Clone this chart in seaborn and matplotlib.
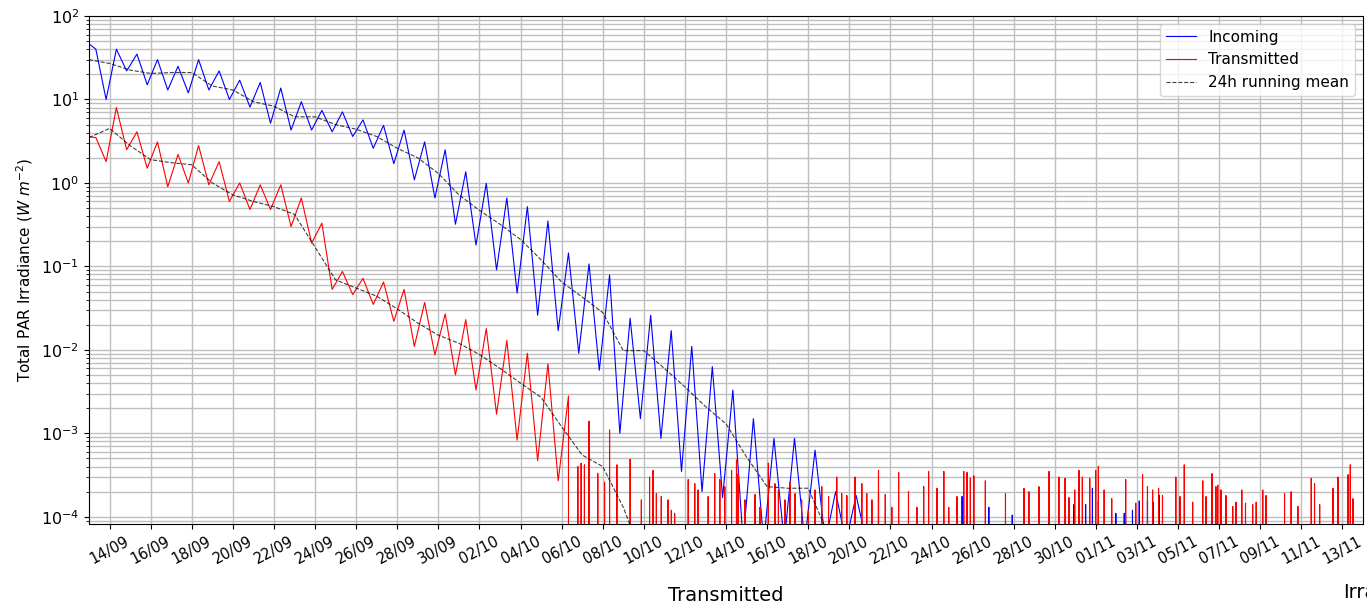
import numpy as np
import pandas as pd
import matplotlib
matplotlib.use('Agg')
import matplotlib.pyplot as plt
import matplotlib.dates as mdates
import seaborn as sns

# 12-hourly readings starting 12/09 20:00, alternating evening low / morning high (W m-2)
incoming_12h = [50, 40, 10, 40, 22, 35, 15, 30, 13, 25, 12, 30, 13, 22, 10, 17, 8.1, 16,
                5.2, 13.7, 4.3, 9.4, 4.3, 7.4, 4.1, 7.1, 3.6, 5.7, 2.6, 4.9, 1.7, 4.3,
                1.09, 3.1, 0.66, 2.5, 0.32, 1.36, 0.18, 0.99, 0.091, 0.66, 0.048, 0.52,
                0.026, 0.35, 0.017, 0.145, 0.0091, 0.107, 0.0057, 0.079, 0.001, 0.024,
                0.0015, 0.026, 0.00087, 0.017, 0.00035, 0.011, 0.0002, 0.0063, 0.00017,
                0.0033, 5e-5, 0.0015, 5e-5, 0.00087, 5e-5, 0.00087, 5e-5, 0.00063, 5e-5,
                0.0002, 5e-5, 0.00018, 5e-5]
transmitted_12h = [3.6, 3.5, 1.8, 8.0, 2.5, 4.1, 1.5, 3.1, 0.9, 2.2, 1.0, 2.8, 0.95, 1.8,
                   0.6, 1.0, 0.48, 0.95, 0.48, 0.95, 0.3, 0.66, 0.19, 0.33, 0.053, 0.087,
                   0.046, 0.072, 0.035, 0.065, 0.022, 0.053, 0.011, 0.037, 0.0087, 0.027,
                   0.005, 0.023, 0.0033, 0.018, 0.0017, 0.013, 0.00083, 0.0091, 0.00047,
                   0.0068, 0.00027, 0.0028, 0.0, 0.0014, 0.0, 0.0011, 0.0, 0.00049, 0.0]

# daily values of the 24h running mean, from 13/09 00:00
incoming_mean = [30, 27, 22.5, 20.5, 21, 21, 14.5, 13, 9.4, 8.3, 6.2, 6.2, 5.0, 4.4, 3.6,
                 2.6, 2.0, 1.3, 0.72, 0.47, 0.32, 0.21, 0.12, 0.065, 0.043, 0.028, 0.0098,
                 0.0098, 0.006, 0.0036, 0.0021, 0.0013, 0.00052, 0.00023, 0.00022, 0.00022,
                 0.00006]
transmitted_mean = [3.5, 4.5, 2.8, 1.9, 1.75, 1.65, 1.0, 0.72, 0.6, 0.52, 0.42, 0.17, 0.069,
                    0.055, 0.044, 0.031, 0.021, 0.015, 0.012, 0.0088, 0.006, 0.004, 0.0027,
                    0.0012, 0.00055, 0.0004, 0.00013, 0.00003]

# late season: isolated non-zero hourly readings (days after 13/09, W m-2)
incoming_spike_day = [38.42, 42.49, 43.79, 44.93, 47.93, 48.5, 48.83, 49.12, 49.97, 50.38,
                      50.78, 51.11, 51.51, 51.79, 52.08]
incoming_spike_val = [1.9e-4, 1.75e-4, 1.3e-4, 1.05e-4, 1.4e-4, 1.4e-4, 2.2e-4, 1.55e-4,
                      1.1e-4, 1.1e-4, 1.2e-4, 1.55e-4, 1.55e-4, 1.5e-4, 1.8e-4]
transmitted_spike_day = [23.79, 23.95, 24.11, 24.76, 25.09, 25.69, 26.88, 27.28, 27.45, 27.61,
                         27.85, 28.18, 28.34, 28.5, 29.16, 29.48, 29.64, 30.13, 30.45, 30.7,
                         30.94, 31.27, 31.51, 31.59, 31.92, 32.41, 32.65, 33.06, 33.38, 33.55,
                         33.87, 34.11, 34.36, 34.68, 35.01, 35.33, 35.66, 35.99, 36.39, 36.63,
                         36.88, 37.28, 37.61, 37.85, 38.1, 38.42, 38.75, 39.07, 39.4, 39.88,
                         40.29, 40.62, 40.86, 41.27, 41.6, 41.84, 42.24, 42.57, 42.73, 42.89,
                         43.06, 43.62, 44.6, 45.5, 45.74, 46.23, 46.72, 47.2, 47.5, 47.69,
                         47.97, 48.18, 48.34, 48.7, 48.99, 49.12, 49.4, 49.77, 50.45, 50.94,
                         51.27, 51.51, 51.76, 52.05, 52.24, 52.89, 53.09, 53.3, 53.71, 54.2,
                         54.36, 54.65, 54.84, 54.93, 55.09, 55.33, 55.66, 55.82, 56.1, 56.28,
                         56.63, 56.8, 57.12, 57.28, 58.18, 58.5, 58.83, 59.48, 59.64, 59.89,
                         60.54, 60.78, 61.27, 61.38, 61.51]
transmitted_spike_val = [4.0e-4, 4.4e-4, 4.2e-4, 3.3e-4, 2.6e-4, 4.2e-4, 1.6e-4, 3.0e-4, 3.6e-4,
                         1.9e-4, 1.75e-4, 1.6e-4, 1.2e-4, 1.1e-4, 2.8e-4, 2.5e-4, 2.1e-4,
                         1.75e-4, 3.3e-4, 2.8e-4, 2.3e-4, 3.6e-4, 4.8e-4, 3.3e-4, 1.6e-4,
                         1.85e-4, 1.3e-4, 4.4e-4, 2.5e-4, 2.1e-4, 1.6e-4, 2.6e-4, 1.9e-4,
                         1.6e-4, 1.2e-4, 2.1e-4, 2.3e-4, 1.75e-4, 3.0e-4, 1.9e-4, 1.8e-4,
                         3.0e-4, 2.5e-4, 1.9e-4, 1.6e-4, 3.6e-4, 1.85e-4, 1.3e-4, 3.4e-4,
                         2.0e-4, 1.3e-4, 2.3e-4, 3.5e-4, 2.2e-4, 3.5e-4, 1.3e-4, 1.75e-4,
                         3.5e-4, 3.4e-4, 2.9e-4, 3.1e-4, 2.7e-4, 1.9e-4, 2.2e-4, 2.0e-4,
                         2.3e-4, 3.5e-4, 3.0e-4, 2.9e-4, 1.7e-4, 2.1e-4, 3.6e-4, 3.0e-4,
                         2.9e-4, 3.6e-4, 4.0e-4, 2.1e-4, 1.65e-4, 2.8e-4, 1.46e-4, 3.2e-4,
                         2.3e-4, 2.1e-4, 2.2e-4, 1.8e-4, 3.0e-4, 1.75e-4, 4.2e-4, 1.5e-4,
                         2.7e-4, 1.75e-4, 3.3e-4, 2.3e-4, 2.4e-4, 2.1e-4, 1.8e-4, 1.33e-4,
                         1.5e-4, 2.1e-4, 1.46e-4, 1.4e-4, 1.5e-4, 2.1e-4, 1.8e-4, 1.9e-4,
                         2.0e-4, 1.33e-4, 2.9e-4, 2.5e-4, 1.4e-4, 2.2e-4, 3.0e-4, 3.2e-4,
                         4.2e-4, 1.65e-4]

t0 = pd.Timestamp('2017-09-13')
first_reading = pd.Timestamp('2017-09-12 20:00')
hour = pd.Timedelta(hours=1)


def build_series(vals_12h, spike_day, spike_val):
    base = pd.DataFrame({'time': pd.date_range(first_reading, periods=len(vals_12h), freq='12h'),
                         'value': vals_12h})
    # each isolated reading sits between two dark (zero) hours
    st = t0 + pd.to_timedelta(spike_day, unit='D')
    n = len(st)
    tail = pd.DataFrame({'time': np.concatenate([st - hour, st, st + hour]),
                         'value': np.concatenate([np.zeros(n), spike_val, np.zeros(n)])})
    return pd.concat([base, tail]).sort_values('time').reset_index(drop=True)


inc = build_series(incoming_12h, incoming_spike_day, incoming_spike_val)
trn = build_series(transmitted_12h, transmitted_spike_day, transmitted_spike_val)
inc_mean = pd.DataFrame({'time': pd.date_range(t0, periods=len(incoming_mean), freq='D'),
                         'value': incoming_mean})
trn_mean = pd.DataFrame({'time': pd.date_range(t0, periods=len(transmitted_mean), freq='D'),
                         'value': transmitted_mean})

fig, ax = plt.subplots(figsize=(13.67, 6.06), dpi=100)
fig.subplots_adjust(left=0.0651, right=0.9971, top=0.9736, bottom=0.1353)

sns.lineplot(data=inc, x='time', y='value', color='b', lw=0.8, estimator=None, ax=ax)
sns.lineplot(data=trn, x='time', y='value', color='r', lw=0.8, estimator=None, ax=ax)
sns.lineplot(data=inc_mean, x='time', y='value', color='k', lw=0.8, ls='--', alpha=0.75,
             estimator=None, ax=ax)
sns.lineplot(data=trn_mean, x='time', y='value', color='k', lw=0.8, ls='--', alpha=0.75,
             estimator=None, ax=ax)

ax.set_yscale('log')
ax.set_ylim(8.2e-5, 100)
ax.set_xlim(t0, pd.Timestamp('2017-11-14'))
ax.set_xticks(pd.date_range('2017-09-14', '2017-11-13', freq='2D'))
ax.xaxis.set_major_formatter(mdates.DateFormatter('%d/%m'))
plt.setp(ax.get_xticklabels(), rotation=28, fontsize=10.5)
ax.tick_params(axis='y', labelsize=11.5)
ax.grid(True, which='both', color='0.75', lw=1)
ax.set_axisbelow(True)

ax.set_ylabel('Total PAR Irradiance ($W\\ m^{-2}$)', fontsize=11)
ax.set_xlabel('Transmitted', fontsize=14, labelpad=14)
fig.text(0.9824, 0.0215, 'Irradiance', fontsize=14, va='center', ha='left')

lines = ax.get_lines()
ax.legend(handles=lines[:3], labels=['Incoming', 'Transmitted', '24h running mean'],
          loc='upper right', fontsize=11)

fig.savefig('out.png', dpi=100)
